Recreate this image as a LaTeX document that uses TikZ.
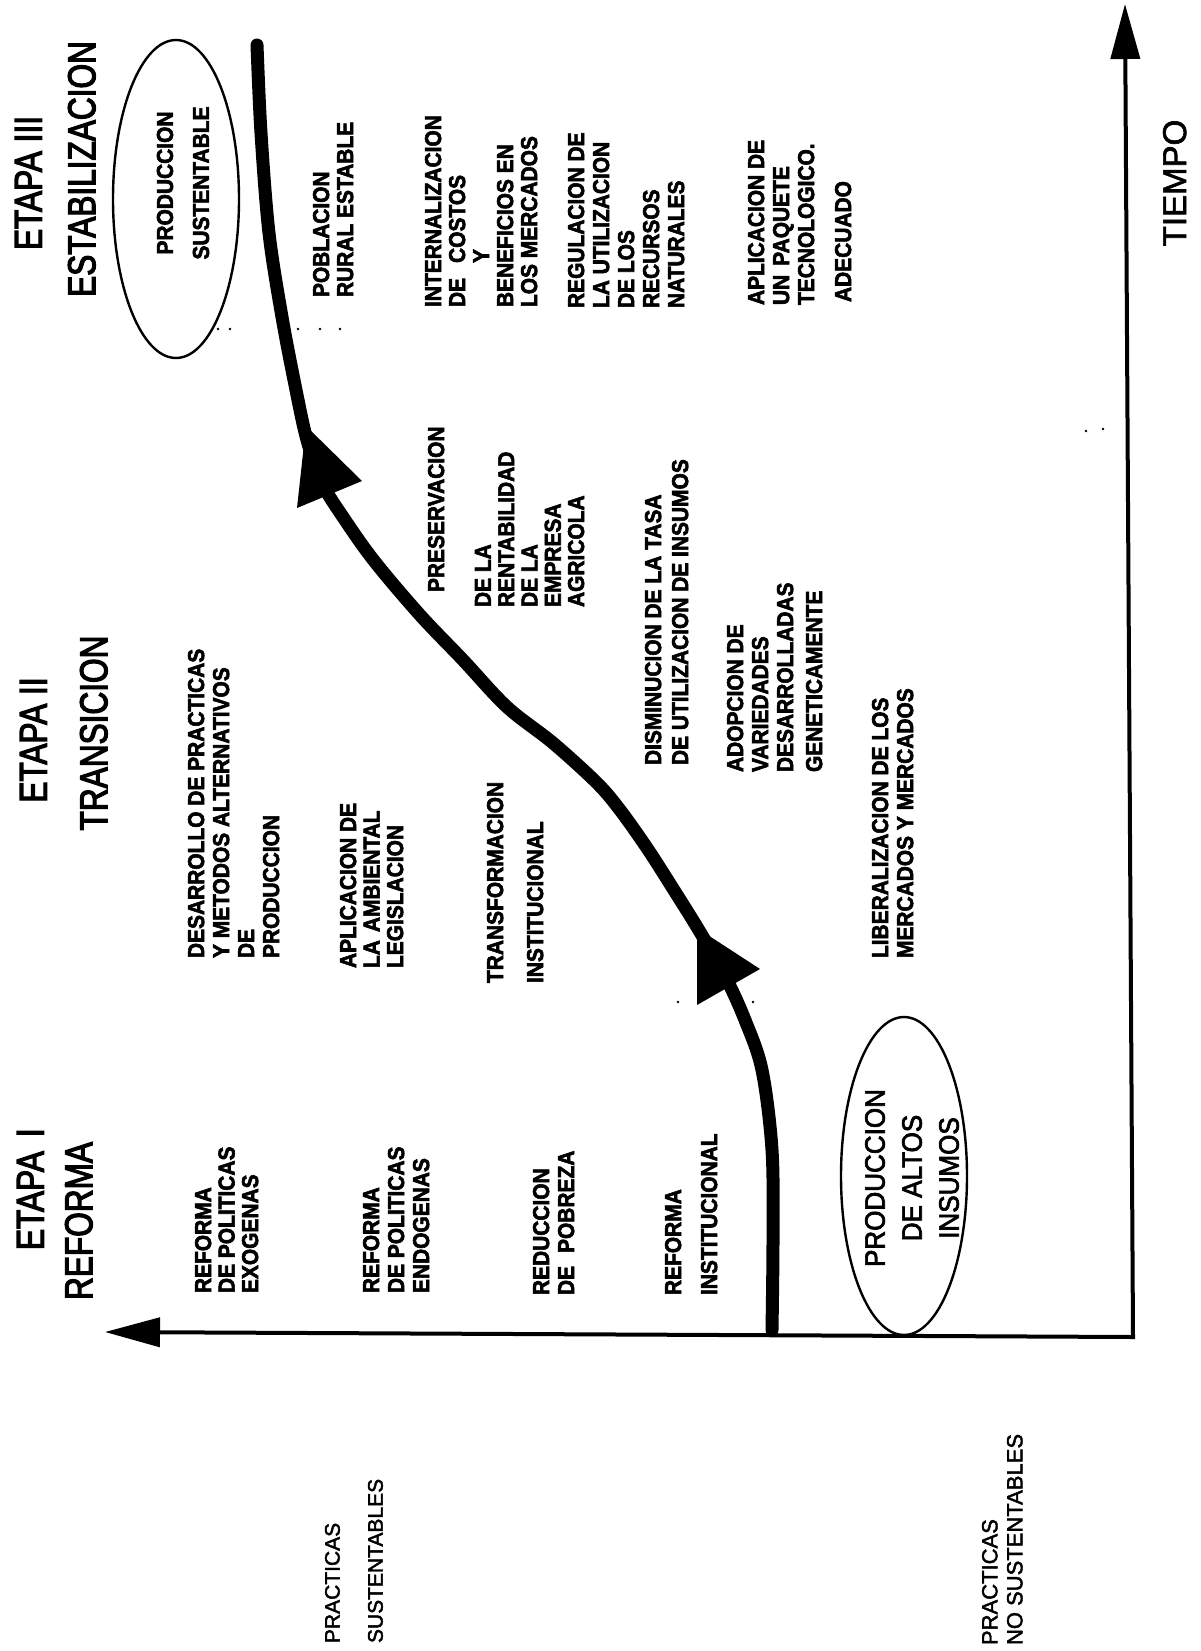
\documentclass[tikz,border=0pt]{standalone}
\usepackage{fontspec}
\setmainfont{Liberation Sans}
\newfontfamily\headfont[FakeStretch=0.81,FakeBold=3]{Liberation Sans}
\newfontfamily\bodyfont[FakeStretch=0.91,FakeBold=2.5]{Liberation Sans Bold}
\newfontfamily\ovalfont[FakeStretch=0.93,FakeBold=2.5]{Liberation Sans}
\newfontfamily\labelfont[FakeBold=2]{Liberation Sans}
\usetikzlibrary{arrows.meta,shapes.geometric}

\begin{document}
\begin{tikzpicture}[x=1pt,y=-1pt,
  txt/.style={rotate=90, inner sep=0pt, outer sep=0pt, align=left},
  head/.style={txt, font=\headfont\fontsize{39}{42}\selectfont},
  body/.style={txt, font=\bodyfont\fontsize{23}{#1}\selectfont},
  body/.default=25,
  plain/.style={txt, font=\labelfont\fontsize{#1}{#1}\selectfont},
  oval/.style={draw, ellipse, line width=2.4pt, inner sep=0pt,
               minimum width=126pt, minimum height=318pt},
  axis/.style={line width=4pt, line join=miter,
               {Triangle[length=55pt,width=29pt]}-{Triangle[length=55pt,width=29pt]}},
  trend/.style={line width=13pt, line cap=round, line join=round},
  speck/.style={fill=black}]

% page
\fill[white] (0,0) rectangle (1201,1651);
\useasboundingbox (0,0) rectangle (1201,1651);

% axes: time runs upwards, sustainability to the left
\coordinate (O) at (1133,1337);
\coordinate (T) at (1125,4);
\coordinate (P) at (105,1332);
\draw[axis] (T) -- (O) -- (P);

% ovals
\node[oval] (pA) at (904,1176) {};
\node[oval] (pS) at (176,199) {};

% the path of change
\coordinate (c0) at (772,1330);
\coordinate (c1) at (257,45);
\draw[trend] plot[smooth, tension=0.55] coordinates {
  (c0) (773,1240) (772,1150) (762,1070) (745,1020) (726,978) (700,932)
  (672,887) (647,848) (620,810) (597,783) (553,743) (507,707) (463,660)
  (420,615) (375,562) (345,520) (322,483) (307,440) (296,390) (282,317)
  (269,233) (261,133) (c1)};
\fill (697,928) -- (760,969) -- (697,1005) -- cycle;
\fill (306,426) -- (362,481) -- (297,508) -- cycle;

% stage headings
\node[head, anchor=north west] (h1a) at (17,1250) {ETAPA\hspace{14pt}I};
\node[head, anchor=north east] (h1b) at (65,1142) {REFORMA};
\node[head, anchor=north] (h2a) at (20,740) {ETAPA II};
\node[head, anchor=north] (h2b) at (80,733) {TRANSICION};
\node[head, anchor=north] (h3a) at (15,183) {ETAPA III};
\node[head, anchor=north] (h3b) at (68,169) {ESTABILIZACION};

% stage I
\node[body=23.5, anchor=north west] (s1a) at (195,1293) {REFORMA\\DE POLITICAS\\EXOGENAS};
\node[body=25, anchor=north west] (s1b) at (363,1293) {REFORMA\\DE POLITICAS\\ENDOGENAS};
\node[body=25, anchor=north west] (s1c) at (533,1295) {REDUCCION\\DE\hspace{13pt}POBREZA};
\node[body=36, anchor=north west] (s1d) at (665,1295) {REFORMA\\INSTITUCIONAL};

% stage II
\node[body=25, anchor=north west] (s2a) at (188,958) {DESARROLLO DE PRACTICAS\\Y METODOS ALTERNATIVOS\\DE\\PRODUCCION};
\node[body=23.5, anchor=north west] (s2b) at (340,968) {APLICACION DE\\LA\hspace{8pt}AMBIENTAL\\LEGISLACION};
\node[body=40, anchor=north west] (s2c) at (487,983) {TRANSFORMACION\\INSTITUCIONAL};
\node[body=25, anchor=north west] (s2d) at (872,958) {LIBERALIZACION DE LOS\\MERCADOS Y MERCADOS};
\node[body, anchor=north west] (s2e) at (428,592) {PRESERVACION};
\node[body=23.3, anchor=north west] (s2f) at (475,607) {DE LA\\RENTABILIDAD\\DE LA\\EMPRESA\\AGRICOLA};
\node[body=27, anchor=north west] (s2g) at (645,765) {DISMINUCION DE LA TASA\\DE UTILIZACION DE INSUMOS};
\node[body=25, anchor=north west] (s2h) at (727,772) {ADOPCION DE\\VARIEDADES\\DESARROLLADAS\\[4pt]GENETICAMENTE};

% stage III
\node[body=36, align=center] (pSt) at (183,183) {PRODUCCION\\SUSTENTABLE};
\node[body=24, anchor=north west] (s3a) at (313,297) {POBLACION\\RURAL ESTABLE};
\node[body=24, anchor=north west] (s3b) at (425,307) {INTERNALIZACION\\DE\hspace{15pt}COSTOS\\\hspace*{44pt}Y\\BENEFICIOS EN\\LOS MERCADOS};
\node[body=25, anchor=north west] (s3c) at (568,308) {REGULACION DE\\LA UTILIZACION\\DE LOS\\RECURSOS\\NATURALES};
\node[body=25, anchor=north west] (s3d) at (748,305) {APLICACION DE\\UN\hspace{9pt}PAQUETE\\TECNOLOGICO.\\[12pt]\hspace*{3pt}ADECUADO};

% oval text
\node[txt, align=center, font=\ovalfont\fontsize{28}{37}\selectfont] (pAt) at (912,1178) {PRODUCCION\\DE ALTOS\\INSUMOS};

% axis labels
\node[plain=33, anchor=north] (tm) at (1163,183) {TIEMPO};
\node[txt, font=\labelfont\fontsize{21}{43}\selectfont, anchor=north west] (ps) at (325,1643) {PRACTICAS\\SUSTENTABLES};
\node[txt, font=\labelfont\fontsize{22}{25}\selectfont, anchor=north west] (pn) at (982,1645) {PRACTICAS\\NO SUSTENTABLES};

% stray print marks
\foreach \p in {(218,329),(230,329),(298,329),(320,329),(340,329),(678,1002),(753,1002),(1086,431),(1103,429)}
  \fill[speck] \p circle (1.3);
\end{tikzpicture}
\end{document}
